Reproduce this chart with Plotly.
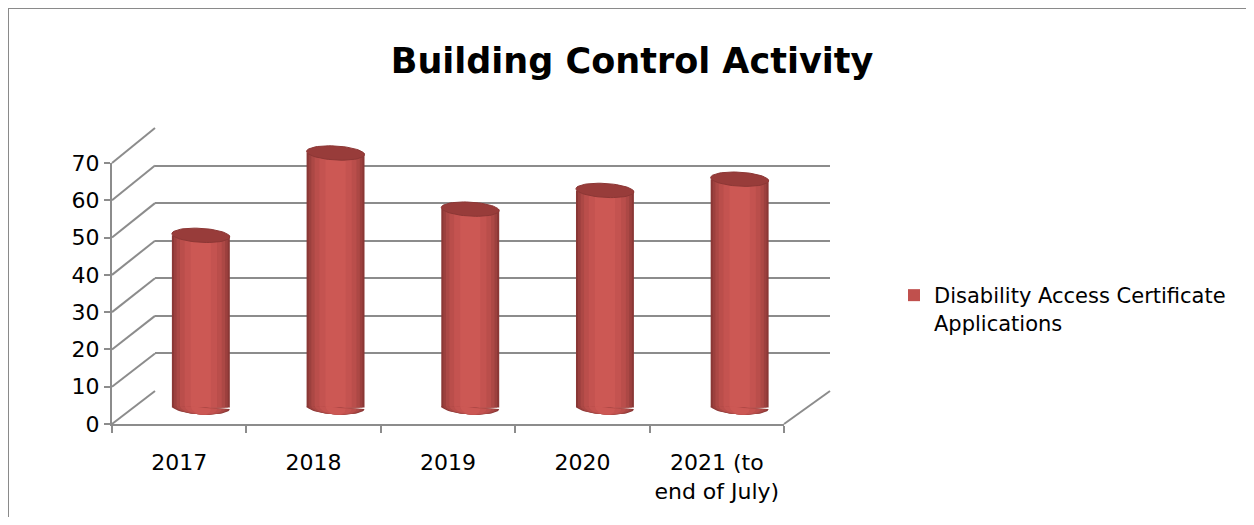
import numpy as np
import plotly.graph_objects as go

# ---------------- data ----------------
categories = ["2017", "2018", "2019", "2020", "2021 (to<br>end of July)"]
values = [46, 68, 53, 58, 61]
series_name = "Disability Access Certificate<br>Applications"
y_ticks = [0, 10, 20, 30, 40, 50, 60, 70]
title_text = "Building Control Activity"

# ---------------- geometry (reference page pixels) ----------------
PAGE_W, PAGE_H = 1254, 525
OFF = 8                        # body margin of the html page
W, H = PAGE_W - 2 * OFF, PAGE_H - 2 * OFF
FONT = "DejaVu Sans"
GRID = "#8C8C8C"


def fx(x):
    return (x - OFF) / W


def fy(y):
    return 1 - (y - OFF) / H


FX0, FX1, FY0, FY70 = 112, 784, 424, 163      # front plane
BX0, BX1, BY0, BY70 = 155, 830, 391, 128      # back wall
MX0, MX1 = (FX0 + BX0) / 2, (FX1 + BX1) / 2    # mid plane (bars)
MY0, MY70 = (FY0 + BY0) / 2, (FY70 + BY70) / 2
unit = (MY0 - MY70) / 70.0
YLO, YHI = -3, 72

fig = go.Figure()

# back-wall subplot carrier (keeps its gridlines drawn)
fig.add_trace(go.Scatter(x=[0.5], y=[None], xaxis="x", yaxis="y",
                         showlegend=False, hoverinfo="skip"))
# front-axis carrier
n = len(categories)
fig.add_trace(go.Scatter(x=categories, y=[None] * n, xaxis="x2", yaxis="y2",
                         showlegend=False, hoverinfo="skip"))

# ---- cylinder bars: stacked layers of decreasing width for shading ----
layers = [
    (0.43, "#8A3735"),
    (0.40, "#9C403E"),
    (0.36, "#AC4845"),
    (0.31, "#BA4E4B"),
    (0.24, "#C45350"),
    (0.15, "#CC5854"),
]
xi = list(range(n))
t_half = np.linspace(np.pi, 2 * np.pi, 30)
t_full = np.linspace(0, 2 * np.pi, 60)
b_units = 7.0 / unit       # ellipse half-height in data units
tilt = 1.6 / unit

for w, col in layers:
    fig.add_trace(go.Bar(
        x=xi, y=values, width=w, marker=dict(color=col, line=dict(width=0)),
        xaxis="x3", yaxis="y3", showlegend=False, hoverinfo="skip"))
    ex, ey = [], []
    for i in xi:
        a = w / 2
        ex += list(i + a * np.cos(t_half)) + [None]
        ey += list(b_units * np.sin(t_half) - tilt * np.cos(t_half)) + [None]
    fig.add_trace(go.Scatter(
        x=ex, y=ey, mode="lines", fill="toself", fillcolor=col,
        line=dict(width=0, color=col), xaxis="x3", yaxis="y3",
        showlegend=False, hoverinfo="skip"))

# top caps
cx, cy = [], []
a = layers[0][0] / 2
for i, v in zip(xi, values):
    cx += list(i + a * np.cos(t_full)) + [None]
    cy += list(v + b_units * np.sin(t_full) - tilt * np.cos(t_full)) + [None]
fig.add_trace(go.Scatter(
    x=cx, y=cy, mode="lines", fill="toself", fillcolor="#983C3A",
    line=dict(width=1, color="#8C3735"), xaxis="x3", yaxis="y3",
    showlegend=False, hoverinfo="skip"))

# legend entry
fig.add_trace(go.Bar(
    x=[None], y=[None], name=series_name, marker=dict(color="#C0504D"),
    xaxis="x3", yaxis="y3", showlegend=True, hoverinfo="skip"))

# ---- side wall / floor diagonals and chart border ----
shapes = []
for v in y_ticks:
    y_f = FY0 - (FY0 - FY70) * v / 70
    y_b = BY0 - (BY0 - BY70) * v / 70
    shapes.append(dict(type="line", xref="paper", yref="paper",
                       x0=fx(FX0), y0=fy(y_f), x1=fx(BX0), y1=fy(y_b),
                       line=dict(color=GRID, width=2)))
shapes.append(dict(type="line", xref="paper", yref="paper",
                   x0=fx(FX1), y0=fy(FY0), x1=fx(BX1), y1=fy(BY0),
                   line=dict(color=GRID, width=2)))
shapes.append(dict(type="line", xref="paper", yref="paper",
                   x0=0, y0=1, x1=1, y1=1, line=dict(color="#8A8A8A", width=2)))
shapes.append(dict(type="line", xref="paper", yref="paper",
                   x0=0, y0=1, x1=0, y1=0, line=dict(color="#8A8A8A", width=2)))

fig.update_layout(
    template="none",
    width=W, height=H,
    margin=dict(l=0, r=0, t=0, b=0, pad=0, autoexpand=False),
    paper_bgcolor="white", plot_bgcolor="rgba(0,0,0,0)",
    barmode="overlay",
    font=dict(family=FONT, size=22, color="black"),
    title=dict(text="<b>%s</b>" % title_text, x=fx(632), xanchor="center",
               y=fy(61), yanchor="middle", yref="paper",
               font=dict(family=FONT, size=35, color="black")),
    xaxis=dict(domain=[fx(BX0), fx(BX1)], range=[0, 1], visible=False,
               automargin=False),
    yaxis=dict(domain=[fy(BY0), fy(BY70)], range=[0, 70], anchor="x",
               tickvals=y_ticks, showticklabels=False, showgrid=True,
               gridcolor=GRID, gridwidth=2, zeroline=False, showline=False,
               ticks="", automargin=False),
    xaxis2=dict(domain=[fx(FX0), fx(FX1)], type="category",
                categoryorder="array", categoryarray=categories,
                range=[-0.5, n - 0.5], anchor="y2", showgrid=False,
                showline=True, linecolor=GRID, linewidth=2,
                ticks="outside", tickson="boundaries", ticklen=7,
                tickcolor=GRID, tickwidth=2, zeroline=False, automargin=False,
                tickangle=0, ticklabelstandoff=18,
                tickfont=dict(family=FONT, size=22, color="black")),
    yaxis2=dict(domain=[fy(FY0), fy(FY70)], range=[0, 70], anchor="x2",
                tickvals=y_ticks, showgrid=False, showline=True,
                linecolor=GRID, linewidth=2, ticks="outside", ticklen=6,
                tickcolor=GRID, tickwidth=2, zeroline=False, automargin=False,
                tickfont=dict(family=FONT, size=22, color="black")),
    xaxis3=dict(domain=[fx(MX0), fx(MX1)], range=[-0.5, n - 0.5],
                anchor="y3", visible=False, automargin=False),
    yaxis3=dict(domain=[fy(MY0 + (0 - YLO) * unit), fy(MY0 - YHI * unit)],
                range=[YLO, YHI], anchor="x3", visible=False,
                automargin=False),
    shapes=shapes,
    legend=dict(x=fx(894), y=fy(275), xanchor="left", yanchor="top",
                valign="top", font=dict(family=FONT, size=21, color="black"),
                bgcolor="rgba(0,0,0,0)", borderwidth=0),
    hovermode=False,
)

fig.write_html("out.html")
